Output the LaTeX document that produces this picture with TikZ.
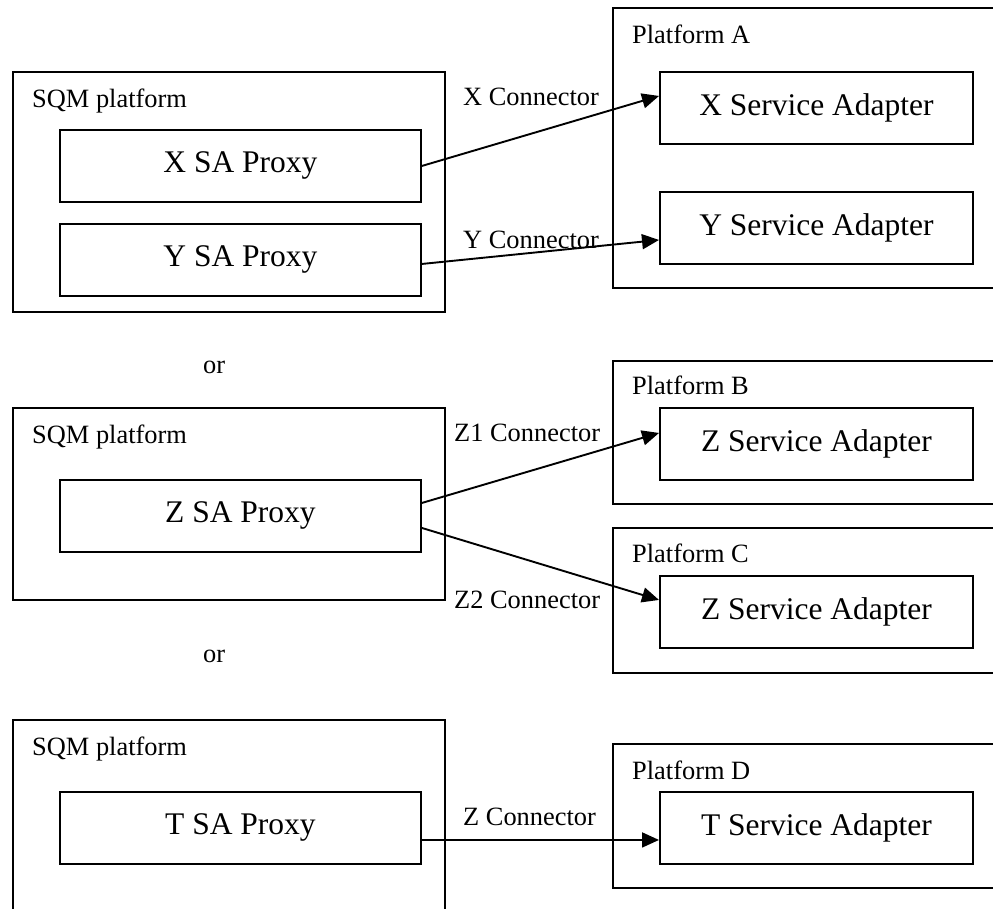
\documentclass[tikz,border=0pt]{standalone}
\usepackage{fontspec}
\setmainfont{Liberation Serif}
\usetikzlibrary{arrows.meta}
\tikzset{
  frame/.style={draw=black, line width=1.9pt, rectangle, inner sep=0pt, anchor=north west},
  bigtext/.style={font=\fontsize{31.5}{36}\selectfont},
  small/.style={font=\fontsize{26.4}{31}\selectfont, inner sep=0pt, anchor=base west},
  conn/.style={line width=1.9pt, -{Triangle[length=17pt,width=15pt]}}
}
\begin{document}
\begin{tikzpicture}[x=1pt, y=-1pt]
\useasboundingbox (0,0) rectangle (993,908);
\clip (0,0) rectangle (993,908);

% ---------- first variant: X and Y proxies to platform A ----------
\node[frame, minimum width=432pt, minimum height=240pt] (sqm1) at (12,71) {};
\node[small] (sqm1l) at (32,107) {SQM platform};
\node[frame, bigtext, minimum width=361pt, minimum height=72pt] (xp) at (59,129) {X SA Proxy};
\node[frame, bigtext, minimum width=361pt, minimum height=72pt] (yp) at (59,223) {Y SA Proxy};

\node[frame, minimum width=400pt, minimum height=280pt] (platA) at (612,7) {};
\node[small] (platAl) at (632,43) {Platform A};
\node[frame, bigtext, minimum width=313pt, minimum height=72pt] (xsa) at (659,71) {X Service Adapter};
\node[frame, bigtext, minimum width=313pt, minimum height=72pt] (ysa) at (659,191) {Y Service Adapter};

\node[small] (xcl) at (463,105) {X Connector};
\node[small] (ycl) at (463,248) {Y Connector};
\draw[conn] (xp.east) -- ([yshift=12pt]xsa.west);
\draw[conn] ([yshift=-4pt]yp.east) -- ([yshift=-12pt]ysa.west);

\node[small] (or1) at (203,373) {or};

% ---------- second variant: Z proxy to platforms B and C ----------
\node[frame, minimum width=432pt, minimum height=192pt] (sqm2) at (12,407) {};
\node[small] (sqm2l) at (32,443) {SQM platform};
\node[frame, bigtext, minimum width=361pt, minimum height=72pt] (zp) at (59,479) {Z SA Proxy};

\node[frame, minimum width=400pt, minimum height=143pt] (platB) at (612,360) {};
\node[small] (platBl) at (632,394) {Platform B};
\node[frame, bigtext, minimum width=313pt, minimum height=72pt] (zsab) at (659,407) {Z Service Adapter};

\node[frame, minimum width=400pt, minimum height=145pt] (platC) at (612,527) {};
\node[small] (platCl) at (632,562) {Platform C};
\node[frame, bigtext, minimum width=313pt, minimum height=72pt] (zsac) at (659,575) {Z Service Adapter};

\node[small] (z1cl) at (454,441) {Z1 Connector};
\node[small] (z2cl) at (454,608) {Z2 Connector};
\draw[conn] ([yshift=13pt]zp.east) -- ([yshift=11pt]zsab.west);
\draw[conn] ([yshift=-12pt]zp.east) -- ([yshift=12pt]zsac.west);

\node[small] (or2) at (203,662) {or};

% ---------- third variant: T proxy to platform D ----------
\node[frame, minimum width=432pt, minimum height=220pt] (sqm3) at (12,719) {};
\node[small] (sqm3l) at (32,755) {SQM platform};
\node[frame, bigtext, minimum width=361pt, minimum height=72pt] (tp) at (59,791) {T SA Proxy};

\node[frame, minimum width=400pt, minimum height=144pt] (platD) at (612,743) {};
\node[small] (platDl) at (632,779) {Platform D};
\node[frame, bigtext, minimum width=313pt, minimum height=72pt] (tsa) at (659,791) {T Service Adapter};

\node[small] (zcl) at (463,825) {Z Connector};
\draw[conn] ([yshift=-12pt]tp.east) -- ([yshift=-12pt]tsa.west);
\end{tikzpicture}
\end{document}
